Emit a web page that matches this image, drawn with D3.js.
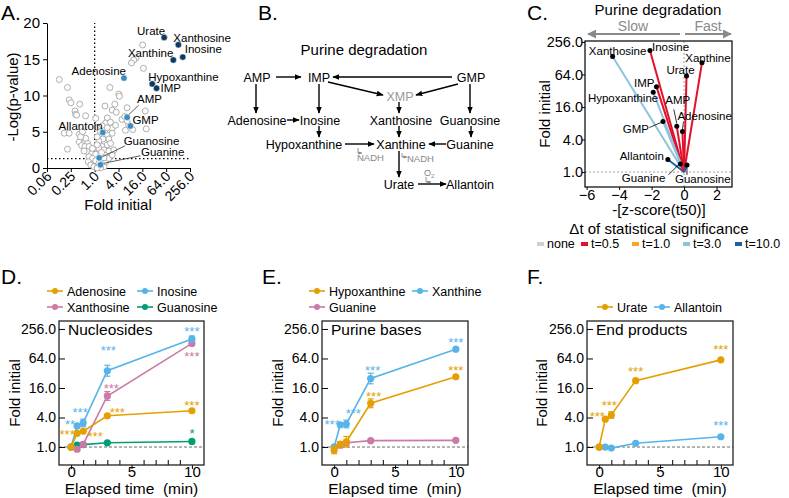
<!DOCTYPE html>
<html>
<head>
<meta charset="utf-8">
<script src="https://cdn.jsdelivr.net/npm/d3@7"></script>
<style>
  body { margin: 0; background: #fff; }
  svg { font-family: "Liberation Sans", Arial, Helvetica, sans-serif; }
</style>
</head>
<body>
<svg id="fig" width="789" height="498"></svg>
<script>
// ---- data ----

// A. volcano: background metabolites (fold initial, -log p)
const otherFold = [16.3, 11.1, 9.7, 8.5, 17.1, 0.128, 0.206, 2.43, 4.08, 4.23, 0.227, 0.25, 0.42, 1.82, 3.23, 6.59,
  2.77, 3.51, 0.32, 0.33, 0.59, 1.06, 2.08, 4.92, 5.78, 19.0, 1.89, 2.51, 1.56, 1.16, 2.77, 5.98, 9.13, 20.1,
  0.17, 0.227, 0.41, 0.49, 1.41, 2.08, 2.28, 1.61, 1.28, 0.41, 0.54, 0.66, 0.47, 0.57, 0.72, 0.206, 1.56, 2.08,
  1.28, 1.72, 2.28, 0.66, 0.54, 0.84, 1.06, 1.41, 0.72, 0.88, 1.06, 0.69, 1.28, 0.8, 0.96, 1.72, 1.41, 1.16,
  1.89, 2.28, 1.72, 2.77, 1.16, 1.16, 2.77, 1.82, 3.36, 0.35, 3.05, 2.51, 1.49, 0.88, 0.59, 0.44, 2.08, 7.26, 6.59];
const otherP = [16.97, 15.2, 14.9, 14.5, 13.75, 12.2, 11.1, 11.1, 10.2, 9.9, 9.4, 9.0, 8.8, 8.55, 8.8, 8.3,
  8.0, 7.7, 7.86, 7.4, 7.2, 6.85, 6.9, 6.7, 7.1, 7.86, 6.2, 6.3, 5.8, 5.57, 5.5, 5.2, 5.3, 5.4,
  4.8, 4.8, 4.65, 5.0, 5.0, 4.55, 4.0, 4.0, 3.7, 3.6, 3.4, 3.4, 3.1, 2.96, 2.96, 2.6, 2.96, 3.2,
  2.7, 2.5, 2.35, 2.25, 2.35, 2.0, 1.9, 1.8, 1.56, 1.33, 1.0, 0.87, 0.65, 0.41, 0.18, 0.18, 0.02, 0.0,
  0.87, 1.33, 1.4, 1.8, 3.2, 4.3, 4.8, 5.2, 5.9, 7.3, 2.5, 3.4, 2.15, 2.7, 4.1, 4.3, 5.55, 5.9, 6.5];
const hitNames = ['Urate', 'Xanthosine', 'Xanthine', 'Inosine', 'Hypoxanthine', 'IMP',
  'Adenosine', 'AMP', 'GMP', 'Allantoin', 'Guanosine', 'Guanine'];
const hitFold = [57, 130, 97, 168, 28.5, 36.6, 5.5, 6.6, 8.0, 1.6, 1.3, 1.4];
const hitP = [18.0, 17.0, 14.9, 15.3, 11.6, 11.0, 12.4, 7.0, 5.8, 4.9, 1.4, 0.45];
const hitDark = [1, 1, 1, 1, 1, 1, 0, 0, 0, 0, 0, 0];
const volcanoTicks = [0.0625, 0.25, 1, 4, 16, 64, 256];
const volcanoTickLabels = ['0.06', '0.25', '1.0', '4.0', '16.0', '64.0', '256.0'];

// C. speed plot
const speedNames = ['Xanthosine', 'Inosine', 'Xanthine', 'Urate', 'IMP', 'Hypoxanthine',
  'AMP', 'Adenosine', 'GMP', 'Allantoin', 'Guanine', 'Guanosine'];
const speedZ = [-4.4, -2.1, 1.1, 0.15, -1.7, -1.9, -0.45, -0.1, -1.3, -1.0, -0.23, 0.18];
const speedFold = [137, 177, 105, 60, 38, 30, 7, 5.6, 8.6, 1.7, 1.41, 1.35];
const speedLevel = ['t=3.0', 't=0.5', 't=0.5', 't=0.5', 't=0.5', 't=3.0',
  't=0.5', 't=0.5', 't=3.0', 't=10.0', 't=0.5', 't=10.0'];
const levelNames = ['none', 't=0.5', 't=1.0', 't=3.0', 't=10.0'];
const levelColors = ['#cfcfcf', '#e3102b', '#f5a623', '#8ec3de', '#1f5fa6'];
const speedXTicks = [-6, -4, -2, 0, 2];
const foldTicks = [1, 4, 16, 64, 256];

// D-F. time courses
const times = [0, 0.5, 1, 3, 10];
const adenosineFold = [1.0, 1.9, 2.1, 4.35, 5.5];
const inosineFold = [1.0, 2.7, 3.1, 36, 160];
const xanthosineFold = [1.0, 0.9, 1.13, 11, 130];
const guanosineFold = [1.0, 1.1, 1.12, 1.22, 1.3];
const adenosineErr = [0.03, 0.08, 0.08, 0.08, 0.06];
const inosineErr = [0.03, 0.12, 0.26, 0.37, 0.2];
const xanthosineErr = [0.03, 0.08, 0.1, 0.3, 0.1];
const guanosineErr = [0.03, 0.05, 0.05, 0.05, 0.05];

const hypoxanthineFold = [0.87, 1.15, 1.28, 7.8, 27];
const xanthineFold = [1.0, 2.85, 2.95, 25, 99];
const guanineFold = [1.0, 1.1, 1.22, 1.35, 1.37];
const hypoxanthineErr = [0.25, 0.15, 0.36, 0.3, 0.1];
const xanthineErr = [0.05, 0.1, 0.26, 0.36, 0.08];
const guanineErr = [0.05, 0.2, 0.15, 0.05, 0.05];

const urateFold = [1.0, 3.7, 4.5, 22.6, 60];
const allantoinFold = [1.0, 1.0, 0.95, 1.19, 1.62];
const urateErr = [0.03, 0.1, 0.22, 0.08, 0.06];
const allantoinErr = [0.03, 0.03, 0.03, 0.05, 0.05];

const ORANGE = '#E69F00', SKY = '#56B4E9', PINK = '#CC79A7', GREEN = '#009E73';

const svg = d3.select('#fig');
const FONT = '"Liberation Sans", Arial, Helvetica, sans-serif';

function letter(x, y, t) {
  svg.append('text').attr('x', x).attr('y', y).attr('font-size', 21).text(t);
}
function styleAxis(g, size) {
  g.attr('font-family', FONT).selectAll('text').attr('font-size', size).attr('fill', '#000');
  g.selectAll('line,path').attr('stroke', '#000');
}

// ================= A. volcano =================
letter(1, 20, 'A.');
const ax = d3.scaleLog().base(2).domain([0.0625, 256]).range([47, 190]);
const ay = d3.scaleLinear().domain([0, 20]).range([168, 23]);
const gA = svg.append('g');

const axA = gA.append('g').attr('transform', 'translate(0,168)')
  .call(d3.axisBottom(ax).tickValues(volcanoTicks).tickFormat((d, i) => volcanoTickLabels[i]).tickSize(4).tickSizeOuter(0));
styleAxis(axA, 14);
axA.selectAll('text').attr('text-anchor', 'end').attr('x', -3).attr('y', 5).attr('dy', '0.35em')
  .attr('transform', 'rotate(-45)');
const ayA = gA.append('g').attr('transform', 'translate(47,0)')
  .call(d3.axisLeft(ay).tickValues([0, 5, 10, 15, 20]).tickSize(4).tickSizeOuter(0));
styleAxis(ayA, 15);

gA.append('line').attr('x1', ax(1)).attr('x2', ax(1)).attr('y1', ay(0)).attr('y2', ay(20))
  .attr('stroke', '#000').attr('stroke-dasharray', '1.5,2.5').attr('stroke-width', 1.3);
gA.append('line').attr('x1', ax(0.0625)).attr('x2', ax(256)).attr('y1', ay(1.3)).attr('y2', ay(1.3))
  .attr('stroke', '#000').attr('stroke-dasharray', '1.5,2.5').attr('stroke-width', 1.3);

gA.selectAll('circle.o').data(otherFold).join('circle').attr('class', 'o')
  .attr('cx', d => ax(d)).attr('cy', (d, i) => ay(otherP[i])).attr('r', 3)
  .attr('fill', '#fff').attr('stroke', '#9a9a9a').attr('stroke-width', 0.8);

// label layout for highlighted metabolites: [dx, dy, anchor, leader]
const hitLabel = {
  Urate: [1, -3, 'end'], Xanthosine: [-5, -3, 'start'], Xanthine: [0, -3, 'end'],
  Inosine: [2, -4, 'start'], Hypoxanthine: [-4, -3, 'start'], IMP: [4, 4, 'start'],
  Adenosine: [2, -3, 'end'], AMP: [10, -14, 'start', [11.5, -12, 1, -2]],
  GMP: [2, -2, 'start'], Allantoin: [0, -2, 'end'],
  Guanosine: [24.5, -13, 'start', [26, -12, 1, 0]], Guanine: [40.5, -9, 'start', [40, -9, 1, -1]]
};
hitNames.forEach((n, i) => {
  const px = ax(hitFold[i]), py = ay(hitP[i]);
  const L = hitLabel[n];
  if (L[3]) gA.append('line').attr('x1', px + L[3][0]).attr('y1', py + L[3][1]).attr('x2', px + L[3][2]).attr('y2', py + L[3][3])
    .attr('stroke', '#333').attr('stroke-width', 0.8);
  gA.append('text').attr('x', px + L[0]).attr('y', py + L[1]).attr('text-anchor', L[2])
    .attr('font-size', 11.5).text(n);
});
gA.selectAll('circle.h').data(hitFold).join('circle').attr('class', 'h')
  .attr('cx', d => ax(d)).attr('cy', (d, i) => ay(hitP[i])).attr('r', 3.2)
  .attr('fill', (d, i) => hitDark[i] ? '#0c3a63' : '#3b8cc2').attr('stroke', '#fff').attr('stroke-width', 0.5);

gA.append('text').attr('transform', 'translate(18,97) rotate(-90)').attr('text-anchor', 'middle')
  .attr('font-size', 15).text('-Log(p-value)');
gA.append('text').attr('x', 118).attr('y', 210).attr('text-anchor', 'middle').attr('font-size', 15).text('Fold initial');

// ================= B. pathway =================
letter(258, 20, 'B.');
const gB = svg.append('g');
const defs = svg.append('defs');
defs.append('marker').attr('id', 'ah').attr('viewBox', '0 0 10 10').attr('refX', 9).attr('refY', 5)
  .attr('markerWidth', 7).attr('markerHeight', 7).attr('markerUnits', 'userSpaceOnUse').attr('orient', 'auto')
  .append('path').attr('d', 'M0,1 L10,5 L0,9 z').attr('fill', '#000');
defs.append('marker').attr('id', 'ahg').attr('viewBox', '0 0 10 10').attr('refX', 9).attr('refY', 5)
  .attr('markerWidth', 4).attr('markerHeight', 4).attr('markerUnits', 'userSpaceOnUse').attr('orient', 'auto')
  .append('path').attr('d', 'M0,1 L10,5 L0,9 z').attr('fill', '#888');

gB.append('text').attr('x', 364).attr('y', 55).attr('text-anchor', 'middle').attr('font-size', 15).text('Purine degradation');
const nodes = [
  ['AMP', 257, 77], ['IMP', 319, 77], ['GMP', 471, 77], ['XMP', 400, 96, '#999'],
  ['Adenosine', 257, 120], ['Inosine', 320, 120], ['Xanthosine', 401, 120], ['Guanosine', 470, 120],
  ['Hypoxanthine', 304, 144], ['Xanthine', 401, 144], ['Guanine', 470, 144],
  ['Urate', 399, 184], ['Allantoin', 470, 184]
];
nodes.forEach(n => gB.append('text').attr('x', n[1]).attr('y', n[2] + 4.5).attr('text-anchor', 'middle')
  .attr('font-size', 12.5).attr('fill', n[3] || '#000').text(n[0]));
const arrows = [
  [276, 77, 301, 77], [452, 77, 333, 77], [328, 82, 383, 95], [458, 84, 416, 95],
  [256, 84, 256, 113], [319, 84, 319, 113], [470, 84, 470, 113], [399, 102, 399, 113],
  [287, 120, 299, 120], [319, 126, 319, 137], [399, 126, 399, 137], [471, 126, 471, 137],
  [345, 144, 374, 144], [446, 144, 429, 144], [399, 151, 399, 177], [418, 184, 446, 184]
];
arrows.forEach(a => gB.append('line').attr('x1', a[0]).attr('y1', a[1]).attr('x2', a[2]).attr('y2', a[3])
  .attr('stroke', '#000').attr('stroke-width', 1.4).attr('marker-end', 'url(#ah)'));
// cofactors
[[358, 148, 362, 153], [402, 153, 407, 157], [426, 177, 431, 182]].forEach(a =>
  gB.append('path').attr('d', `M${a[0]},${a[1]} L${a[0]},${a[3]} L${a[2]},${a[3]}`).attr('fill', 'none')
    .attr('stroke', '#888').attr('stroke-width', 0.9).attr('marker-end', 'url(#ahg)'));
gB.append('text').attr('x', 357).attr('y', 161).attr('font-size', 9.5).attr('fill', '#888').text('NADH');
gB.append('text').attr('x', 407).attr('y', 162).attr('font-size', 9.5).attr('fill', '#888').text('NADH');
const o2 = gB.append('text').attr('x', 424).attr('y', 176).attr('font-size', 9).attr('fill', '#888');
o2.append('tspan').text('O');
o2.append('tspan').attr('font-size', 6).attr('dy', 2).text('2');

// ================= C. speed =================
letter(527, 20, 'C.');
const gC = svg.append('g');
const cx = d3.scaleLinear().domain([-6.1, 2.95]).range([585, 732]);
const cy = d3.scaleLog().base(2).domain([0.528, 266]).range([187, 41]);
gC.append('text').attr('x', 658).attr('y', 15).attr('text-anchor', 'middle').attr('font-size', 15).text('Purine degradation');
defs.append('marker').attr('id', 'ahs').attr('viewBox', '0 0 10 10').attr('refX', 9).attr('refY', 5)
  .attr('markerWidth', 9).attr('markerHeight', 9).attr('markerUnits', 'userSpaceOnUse').attr('orient', 'auto')
  .append('path').attr('d', 'M0,0 L10,5 L0,10 z').attr('fill', '#8a8a8a');
gC.append('line').attr('x1', 680).attr('x2', 588).attr('y1', 34).attr('y2', 34)
  .attr('stroke', '#8a8a8a').attr('stroke-width', 2).attr('marker-end', 'url(#ahs)');
gC.append('line').attr('x1', 685).attr('x2', 731).attr('y1', 34).attr('y2', 34)
  .attr('stroke', '#8a8a8a').attr('stroke-width', 2).attr('marker-end', 'url(#ahs)');
gC.append('text').attr('x', 633).attr('y', 31).attr('text-anchor', 'middle').attr('font-size', 14).attr('fill', '#8a8a8a').text('Slow');
gC.append('text').attr('x', 708).attr('y', 31).attr('text-anchor', 'middle').attr('font-size', 14).attr('fill', '#8a8a8a').text('Fast');

gC.append('line').attr('x1', cx(0)).attr('x2', cx(0)).attr('y1', 41).attr('y2', 187)
  .attr('stroke', '#999').attr('stroke-dasharray', '2,2').attr('stroke-width', 0.9);
gC.append('line').attr('x1', 585).attr('x2', 732).attr('y1', cy(1)).attr('y2', cy(1))
  .attr('stroke', '#999').attr('stroke-dasharray', '2,2').attr('stroke-width', 0.9);

const cxA = gC.append('g').attr('transform', 'translate(0,187)')
  .call(d3.axisBottom(cx).tickValues(speedXTicks).tickSize(3).tickSizeOuter(0));
styleAxis(cxA, 14.5);
cxA.select('.domain').remove();
cxA.selectAll('text').attr('y', 3);
const cyA = gC.append('g').attr('transform', 'translate(585,0)')
  .call(d3.axisLeft(cy).tickValues(foldTicks).tickFormat(d => d.toFixed(1)).tickSize(3).tickSizeOuter(0));
styleAxis(cyA, 14.5);
cyA.select('.domain').remove();
cyA.selectAll('text').attr('x', -2);

speedNames.forEach((n, i) => {
  gC.append('line').attr('x1', cx(0)).attr('y1', cy(1)).attr('x2', cx(speedZ[i])).attr('y2', cy(speedFold[i]))
    .attr('stroke', levelColors[levelNames.indexOf(speedLevel[i])]).attr('stroke-width', 2);
});
gC.append('rect').attr('x', 585).attr('y', 41).attr('width', 147).attr('height', 146)
  .attr('fill', 'none').attr('stroke', '#000').attr('stroke-width', 1.2);

const speedLabel = {
  Xanthosine: [5, -2, 'middle'], Inosine: [2, 0.5, 'start'], Xanthine: [6, -1, 'middle'],
  Urate: [-6, -2, 'middle'], IMP: [-2, 0, 'end'], Hypoxanthine: [5, 9.5, 'end'],
  AMP: [1, -22, 'middle', [-3, -17, 0, -3]], Adenosine: [-5, -12, 'start', [1, -10, 0, -2]],
  GMP: [-14, 11, 'end', [-13.5, 6, -2, 1]], Allantoin: [-4, 0.5, 'end'],
  Guanine: [-15, 18, 'end', [-12, 11, -2, 1]], Guanosine: [-12, 18, 'start', [0, 10, 0, 1.5]]
};
speedNames.forEach((n, i) => {
  const px = cx(speedZ[i]), py = cy(speedFold[i]);
  const L = speedLabel[n];
  if (L[3]) gC.append('line').attr('x1', px + L[3][0]).attr('y1', py + L[3][1]).attr('x2', px + L[3][2]).attr('y2', py + L[3][3])
    .attr('stroke', '#000').attr('stroke-width', 0.8);
  gC.append('circle').attr('cx', px).attr('cy', py).attr('r', 2.5).attr('fill', '#000');
  gC.append('text').attr('x', px + L[0]).attr('y', py + L[1]).attr('text-anchor', L[2]).attr('font-size', 11.5).text(n);
});
gC.append('text').attr('transform', 'translate(550,114) rotate(-90)').attr('text-anchor', 'middle')
  .attr('font-size', 15).text('Fold initial');
gC.append('text').attr('x', 659).attr('y', 215).attr('text-anchor', 'middle').attr('font-size', 15).text('-[z-score(t50)]');
gC.append('text').attr('x', 659).attr('y', 234).attr('text-anchor', 'middle').attr('font-size', 15).text('\u0394t of statistical significance');
const levelSwatchX = [537, 581, 632, 683, 735];
levelNames.forEach((n, i) => {
  gC.append('rect').attr('x', levelSwatchX[i]).attr('y', 242).attr('width', 7).attr('height', 4).attr('fill', levelColors[i]);
  gC.append('text').attr('x', levelSwatchX[i] + 10).attr('y', 248).attr('font-size', 12.5).text(n);
});

// ================= D-F. time courses =================
function timePanel(o) {
  const g = svg.append('g');
  const x = d3.scaleLinear().domain([-1, 11]).range([o.x0, o.x1]);
  const y = d3.scaleLog().base(2).domain([0.43, 372]).range([465, 321]);
  const top = 321, bot = 465;

  g.append('line').attr('x1', o.x0).attr('x2', o.x1).attr('y1', y(1)).attr('y2', y(1))
    .attr('stroke', '#444').attr('stroke-dasharray', '3,2').attr('stroke-width', 0.8);

  // x axis: major outward, minor inward
  const xa = g.append('g').attr('transform', `translate(0,${bot})`)
    .call(d3.axisBottom(x).tickValues([0, 5, 10]).tickSize(4).tickSizeOuter(0));
  styleAxis(xa, 15);
  xa.select('.domain').remove();
  xa.selectAll('text').attr('y', 1);
  const xm = g.append('g').attr('transform', `translate(0,${bot})`)
    .call(d3.axisTop(x).tickValues(d3.range(1, 10).filter(v => v !== 5)).tickSize(5).tickFormat(''));
  xm.select('.domain').remove();
  xm.selectAll('line').attr('stroke', '#000');
  // y axis: inward ticks
  const ya = g.append('g').attr('transform', `translate(${o.x0},0)`)
    .call(d3.axisRight(y).tickValues(foldTicks).tickFormat(d => d.toFixed(1)).tickSize(6).tickSizeOuter(0));
  styleAxis(ya, 14);
  ya.select('.domain').remove();
  ya.selectAll('text').attr('text-anchor', 'end').attr('x', -3);

  g.append('rect').attr('x', o.x0).attr('y', top).attr('width', o.x1 - o.x0).attr('height', bot - top)
    .attr('fill', 'none').attr('stroke', '#222').attr('stroke-width', 1.3);
  g.append('text').attr('x', o.x0 + 9).attr('y', 335).attr('font-size', 15.5).text(o.title);

  const line = d3.line().x((d, i) => x(times[i])).y(d => y(d));
  o.series.slice().reverse().forEach(s => {
    g.append('path').attr('d', line(s.v)).attr('fill', 'none').attr('stroke', s.c).attr('stroke-width', 1.6);
    s.v.forEach((v, i) => {
      const lo = y(v / Math.pow(2, s.e[i])), hi = y(v * Math.pow(2, s.e[i])), xx = x(times[i]);
      if (lo - hi > 4) {
        g.append('line').attr('x1', xx).attr('x2', xx).attr('y1', lo).attr('y2', hi).attr('stroke', s.c).attr('stroke-width', 1.2);
        [lo, hi].forEach(yy => g.append('line').attr('x1', xx - 3).attr('x2', xx + 3).attr('y1', yy).attr('y2', yy)
          .attr('stroke', s.c).attr('stroke-width', 1.2));
      }
    });
    g.selectAll(null).data(s.v).join('circle').attr('cx', (d, i) => x(times[i])).attr('cy', d => y(d))
      .attr('r', 3.6).attr('fill', s.c);
  });

  o.stars.forEach(st => {
    const s = o.series.find(q => q.n === st[0]);
    g.append('text').attr('x', x(times[st[1]]) + st[3]).attr('y', y(s.v[st[1]]) + st[4] + 7.5)
      .attr('text-anchor', 'middle').attr('font-size', 13).attr('fill', s.c).text(st[2]);
  });

  o.series.forEach(s => {
    const [lx, ly] = s.leg;
    g.append('line').attr('x1', lx).attr('x2', lx + 16).attr('y1', ly).attr('y2', ly).attr('stroke', s.c).attr('stroke-width', 1.6);
    g.append('circle').attr('cx', lx + 8).attr('cy', ly).attr('r', 3).attr('fill', s.c);
    g.append('text').attr('x', lx + 20).attr('y', ly + 4.5).attr('font-size', 12.5).text(s.n);
  });

  g.append('text').attr('transform', `translate(${o.yl},393) rotate(-90)`).attr('text-anchor', 'middle')
    .attr('font-size', 15).text('Fold initial');
  g.append('text').attr('x', (o.x0 + o.x1) / 2).attr('y', 494).attr('text-anchor', 'middle')
    .attr('font-size', 15.5).style('white-space', 'pre').text('Elapsed time  (min)');
}

letter(1, 284, 'D.');
timePanel({
  x0: 59, x1: 204, yl: 20, title: 'Nucleosides',
  series: [
    { n: 'Adenosine', v: adenosineFold, e: adenosineErr, c: ORANGE, leg: [47, 291] },
    { n: 'Inosine', v: inosineFold, e: inosineErr, c: SKY, leg: [137, 291] },
    { n: 'Xanthosine', v: xanthosineFold, e: xanthosineErr, c: PINK, leg: [47, 307] },
    { n: 'Guanosine', v: guanosineFold, e: guanosineErr, c: GREEN, leg: [137, 307] }
  ],
  stars: [
    ['Inosine', 0, '**', -1, -26], ['Inosine', 2, '***', -3, -13], ['Inosine', 3, '***', 1, -23], ['Inosine', 4, '***', 0, -10],
    ['Adenosine', 1, '***', -10, -2], ['Adenosine', 2, '***', 12, 2], ['Adenosine', 3, '***', 10, -6], ['Adenosine', 4, '***', 0, -8],
    ['Xanthosine', 3, '***', 4, -10], ['Xanthosine', 4, '***', 0, 10], ['Guanosine', 4, '*', 0, -11]
  ]
});

letter(262, 284, 'E.');
timePanel({
  x0: 322, x1: 468, yl: 283, title: 'Purine bases',
  series: [
    { n: 'Hypoxanthine', v: hypoxanthineFold, e: hypoxanthineErr, c: ORANGE, leg: [309, 291] },
    { n: 'Xanthine', v: xanthineFold, e: xanthineErr, c: SKY, leg: [412, 291] },
    { n: 'Guanine', v: guanineFold, e: guanineErr, c: PINK, leg: [309, 307] }
  ],
  stars: [
    ['Xanthine', 0, '***', -2, -26], ['Xanthine', 2, '***', 7, -13], ['Xanthine', 3, '***', 2, -11], ['Xanthine', 4, '***', 0, -10],
    ['Hypoxanthine', 3, '***', 3, -10], ['Hypoxanthine', 4, '***', 0, -9]
  ]
});

letter(527, 284, 'F.');
timePanel({
  x0: 587, x1: 733, yl: 547, title: 'End products',
  series: [
    { n: 'Urate', v: urateFold, e: urateErr, c: ORANGE, leg: [597, 307] },
    { n: 'Allantoin', v: allantoinFold, e: allantoinErr, c: SKY, leg: [654, 307] }
  ],
  stars: [
    ['Urate', 1, '***', -8, -6], ['Urate', 2, '***', -2, -13], ['Urate', 3, '***', 0, -12], ['Urate', 4, '***', 0, -13],
    ['Allantoin', 4, '***', 0, -14]
  ]
});
</script>
</body>
</html>
